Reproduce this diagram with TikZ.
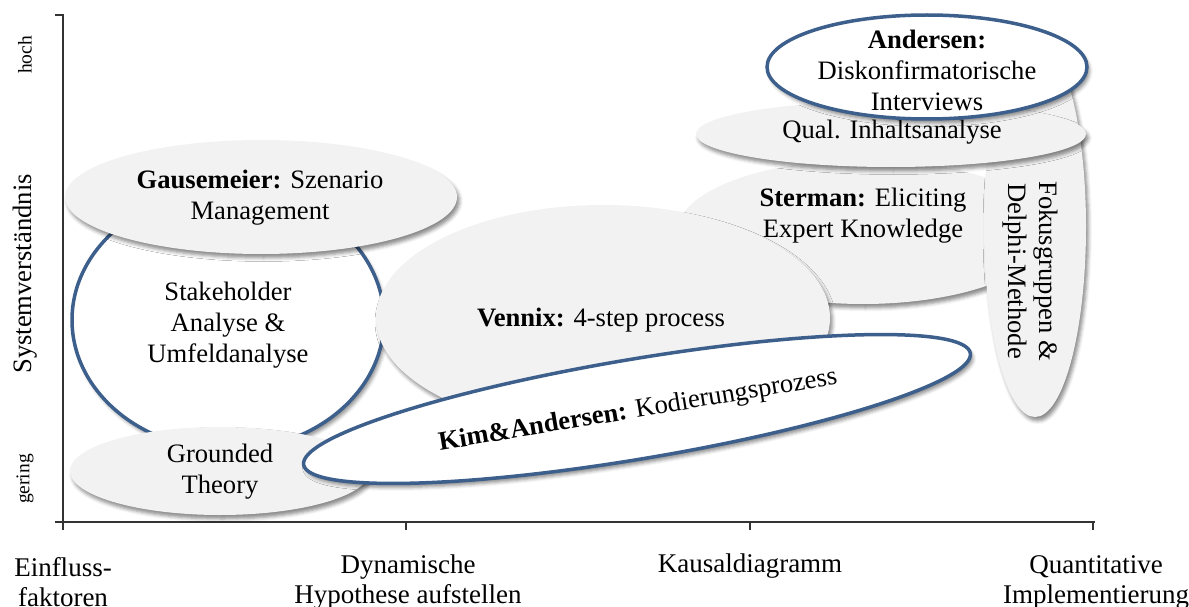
\documentclass[tikz,border=0pt]{standalone}
\usepackage{fontspec}
\setmainfont{Liberation Serif}
\usetikzlibrary{shapes.geometric,shadows.blur}

\definecolor{ovalgray}{HTML}{F2F2F2}
\definecolor{ovalblue}{HTML}{3D5F8C}
\definecolor{axisgray}{HTML}{333333}

\tikzset{
  oval/.style={ellipse, inner sep=0pt, outer sep=0pt,
    blur shadow={shadow xshift=2.5pt, shadow yshift=-4pt,
                 shadow blur radius=3.5pt, shadow opacity=45}},
  grayoval/.style={oval, fill=ovalgray},
  blueoval/.style={oval, fill=white, draw=ovalblue, line width=3.5pt},
  lbl/.style={align=center, inner sep=0pt, font=\fontsize{26.6}{31}\selectfont},
  axislbl/.style={align=center, inner sep=0pt, font=\fontsize{27}{30}\selectfont},
  smalllbl/.style={inner sep=0pt, font=\fontsize{19.5}{23}\selectfont},
  axisline/.style={draw=axisgray, line width=1.3pt},
}

\begin{document}
\begin{tikzpicture}[x=1pt, y=-1pt]
  \useasboundingbox (0,0) rectangle (1189,607);

  % axes
  \coordinate (ytop) at (63,15);
  \coordinate (origin) at (63,522);
  \coordinate (xend) at (1095,522);
  \draw[axisline] (55,15) -- (ytop) -- (63,530);
  \draw[axisline] (55,522) -- (xend);
  \foreach \tx in {406,750,1093} \draw[axisline] (\tx,522) -- (\tx,530);

  % vertical axis labels
  \node[smalllbl, rotate=90] (hoch) at (25,55) {hoch};
  \node[lbl, rotate=90] (sysv) at (25,274) {Systemverständnis};
  \node[smalllbl, rotate=90] (gering) at (25,479) {gering};

  % horizontal axis labels
  \node[axislbl] (einfl) at (63,582) {Einfluss-\\faktoren};
  \node[axislbl] (dynh) at (408,582) {Dynamische\\Hypothese aufstellen};
  \node[axislbl] (kausal) at (750,566) {Kausaldiagramm};
  \node[axislbl] (quant) at (1096,582) {Quantitative\\Implementierung};

  % methods, back to front
  \node[blueoval, minimum width=312pt, minimum height=260pt] (stake) at (228,320) {};
  \node[lbl] (staketxt) at (228,325) {Stakeholder\\Analyse \&\\Umfeldanalyse};

  \node[grayoval, minimum width=392pt, minimum height=114pt] (gause) at (261,197) {};
  \node[lbl] (gausetxt) at (260,198) {\textbf{Gausemeier:} Szenario\\Management};

  \node[grayoval, minimum width=300pt, minimum height=88pt] (ground) at (220,471) {};
  \node[lbl] (groundtxt) at (220,472) {Grounded\\Theory};

  \node[grayoval, minimum width=372pt, minimum height=144pt] (sterman) at (863,232) {};
  \node[lbl] (stermantxt) at (863,216) {\textbf{Sterman:} Eliciting\\Expert Knowledge};

  \node[grayoval, minimum width=102pt, minimum height=380pt] (fokus) at (1035,227) {};
  \node[lbl, rotate=-90] (fokustxt) at (1030,271) {Fokusgruppen \&\\Delphi-Methode};

  \node[grayoval, minimum width=390pt, minimum height=66pt] (qual) at (891,134) {};
  \node[lbl] (qualtxt) at (892,132) {Qual. Inhaltsanalyse};

  \node[blueoval, minimum width=320pt, minimum height=104pt] (andersen) at (927,67) {};
  \node[lbl] (andersentxt) at (927,70) {\textbf{Andersen:}\\Diskonfirmatorische\\Interviews};

  \node[grayoval, minimum width=454pt, minimum height=226pt] (vennix) at (603,318) {};
  \node[lbl] (vennixtxt) at (601,320) {\textbf{Vennix:} 4-step process};

  \node[blueoval, rotate=9.5, minimum width=676pt, minimum height=100pt] (kim) at (637,409) {};
  \node[lbl, rotate=9.5] (kimtxt) at (638,411) {\textbf{Kim\&Andersen:} Kodierungsprozess};
\end{tikzpicture}
\end{document}
